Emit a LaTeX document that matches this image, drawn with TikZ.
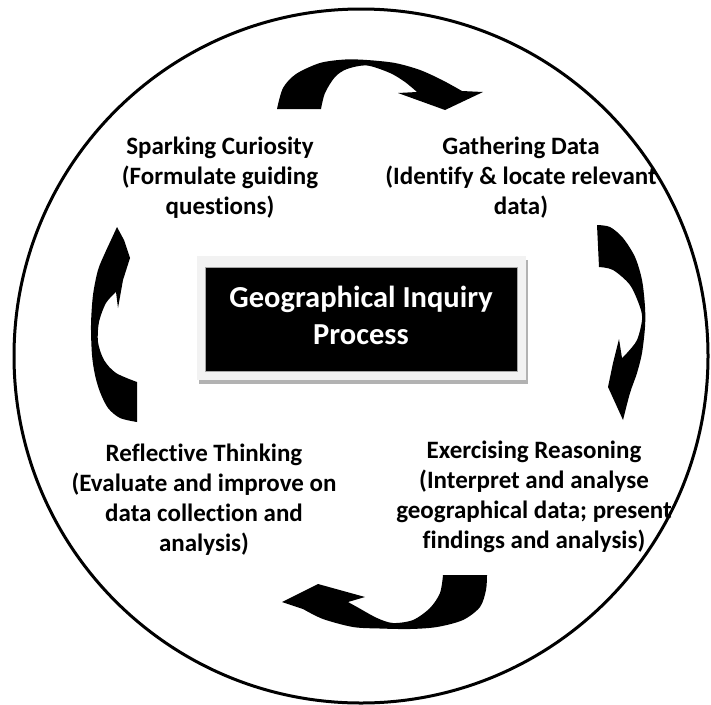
\documentclass[tikz,border=0pt]{standalone}
\usepackage{fontspec}
\setmainfont{Carlito}[Ligatures={NoCommon}]
\begin{document}
\begin{tikzpicture}[x=1pt,y=-1pt,
  lbl/.style={font=\bfseries\fontsize{25}{30}\selectfont, align=center, text=black, inner sep=0pt},
  ttl/.style={font=\bfseries\fontsize{30.5}{37}\selectfont, align=center, text=white, inner sep=0pt},
  arr/.style={fill=black}]
\useasboundingbox (0,0) rectangle (711,704);
% outer circle
\draw[line width=3pt] (361,356) circle [radius=347];
% central box: shadow, frame, black panel
\node (shadow) [fill=gray!60, minimum width=329pt, minimum height=124pt, inner sep=0pt] at (363.5,322) {};
\node (frame) [fill=gray!10, minimum width=329pt, minimum height=124pt, inner sep=0pt] at (361.5,318) {};
\node (panel) [fill=black, draw=gray!70, line width=0.8pt, minimum width=312pt, minimum height=104pt, inner sep=0pt] at (361,319) {};
\node (title) [ttl] at (361,315) {Geographical Inquiry\\Process};
% stage labels
\node (spark) [lbl] at (220,178) {Sparking Curiosity\\(Formulate guiding\\questions)};
\node (gather) [lbl] at (521,178) {Gathering Data\\(Identify \& locate relevant\\data)};
\node (reflect) [lbl] at (204,500) {Reflective Thinking\\(Evaluate and improve on\\data collection and\\analysis)};
\node (reason) [lbl] at (534,497) {Exercising Reasoning\\(Interpret and analyse\\geographical data; present\\findings and analysis)};
% top curved arrow
\fill[arr] plot[smooth] coordinates {(277,109) (283,88) (296,74) (320,63) (345,59.5) (367,60) (395,63) (420,70) (442,80) (462,91)}
  -- (483,92) -- (445,110) -- (398,93)
  -- plot[smooth] coordinates {(417,92) (405,82) (390,73) (367,65.5) (347,69) (335,77) (325,93) (321,109)} -- cycle;
% right curved arrow
\fill[arr] plot[smooth] coordinates {(597,225) (610,227) (623,238) (635,257) (642,280) (645,307) (645,327) (642,353) (637,373) (630,393) (623,420)}
  -- (608,387) -- (613,363) -- (619,339)
  -- plot[smooth] coordinates {(622,358) (627,353) (637,340) (642,320) (640,307) (630,285) (613,270) (599,267)} -- cycle;
% bottom curved arrow
\fill[arr] plot[smooth] coordinates {(487,575) (486,590) (480,607) (463,620) (437,627) (410,629) (380,628.5) (353,627) (323,619) (303,609)}
  -- (282,602) -- (318,584) -- (365,597)
  -- plot[smooth] coordinates {(348,602) (357,607) (377,618) (393,623) (413,620) (430,608) (440,593) (443,575)} -- cycle;
% left curved arrow
\fill[arr] plot[smooth] coordinates {(137,422) (120,418) (108,408) (100,392) (95,375) (92,355) (91,325) (93,295) (98,270) (105,253) (111,240) (117,227)}
  -- (124,240) -- (130,258) -- (123,280) -- (118,308)
  -- plot[smooth] coordinates {(116,292) (106,303) (99,322) (98,342) (104,360) (116,373) (137,382)} -- cycle;
\end{tikzpicture}
\end{document}
